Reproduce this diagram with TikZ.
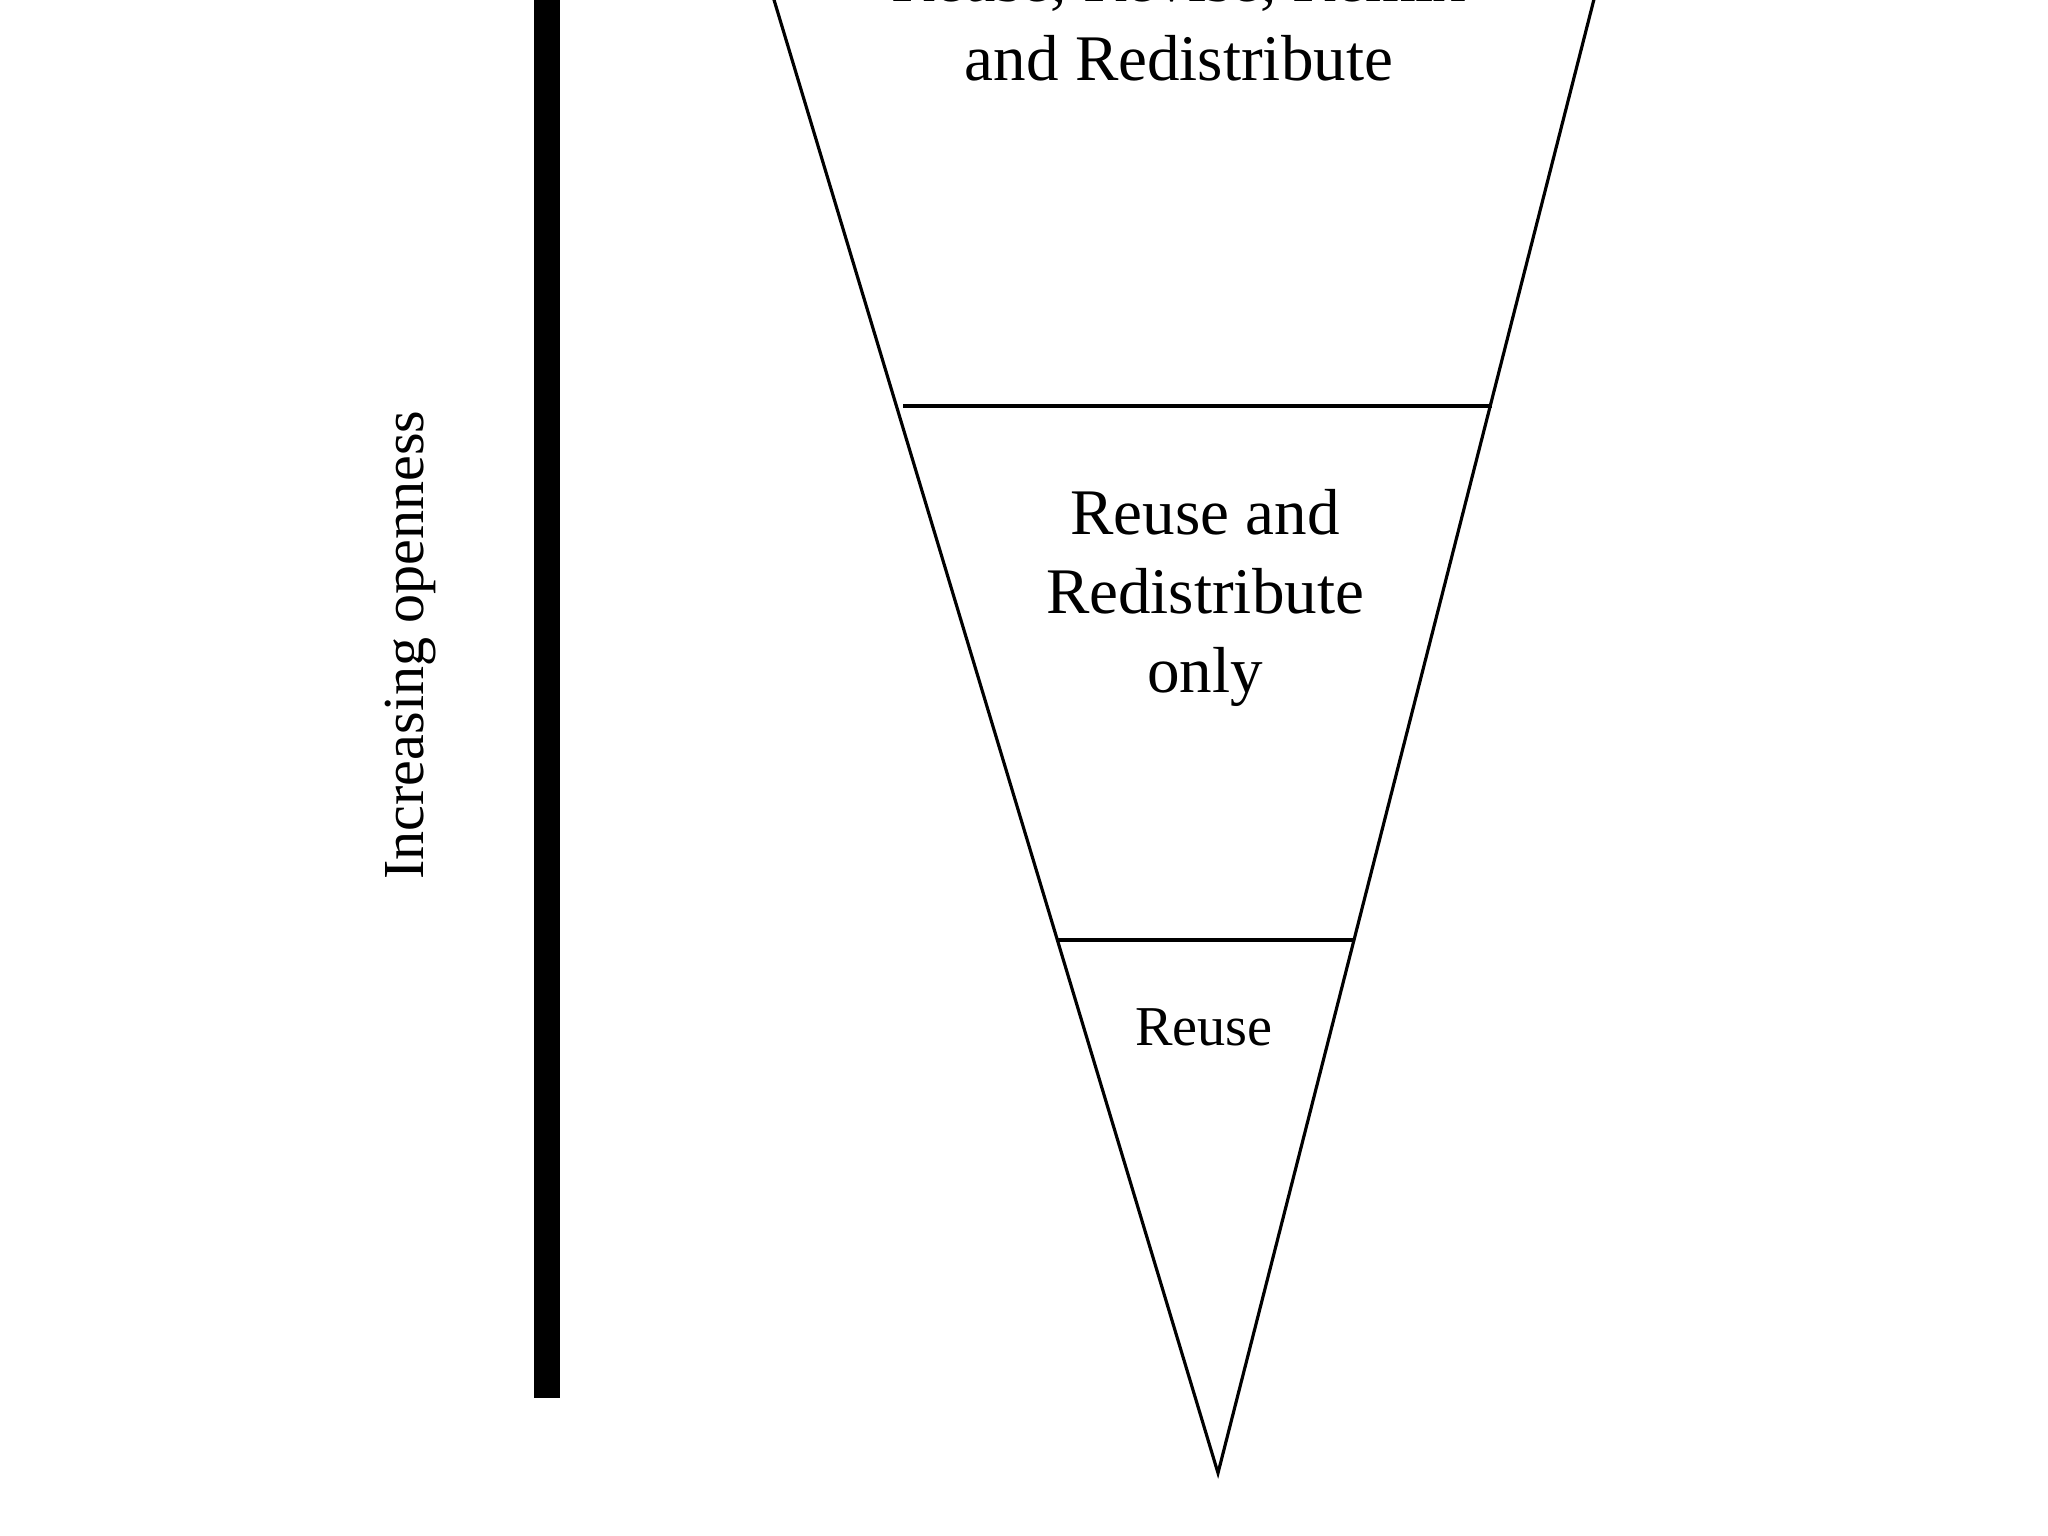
\documentclass[tikz,border=0pt]{standalone}
\usepackage{fontspec}
\setmainfont{Liberation Serif}
\usetikzlibrary{positioning}

\tikzset{
  band/.style={line width=0.9pt, line join=miter},
  level/.style={align=center, inner sep=0pt, font=\fontsize{18.5}{22.5}\selectfont},
  axis/.style={line width=0.26cm},
}

\begin{document}
\begin{tikzpicture}[x=0.01cm, y=-0.01cm]
  \useasboundingbox[fill=white] (0,0) rectangle (2048,1536);
  % funnel
  \coordinate (tl) at (762,-40);
  \coordinate (tr) at (1604,-40);
  \coordinate (apex) at (1218,1473);
  \draw[band] (tl) -- (apex) -- (tr);
  % level dividers
  \coordinate (d1l) at (903,406);
  \coordinate (d1r) at (1492,406);
  \coordinate (d2l) at (1058,940);
  \coordinate (d2r) at (1354,940);
  \draw[band] (d1l) -- (d1r);
  \draw[band] (d2l) -- (d2r);
  % labels
  \node[level] (all) at (1179,20) {Reuse, Revise, Remix\\and Redistribute};
  \node[level] (redis) at (1205,598) {Reuse and\\Redistribute\\only};
  \node[level, anchor=base, font=\fontsize{16}{19}\selectfont] (reuse) at (1204,1045) {Reuse};
  % openness bar
  \coordinate (bartop) at (547,-20);
  \coordinate (barbot) at (547,1398);
  \draw[axis] (bartop) -- (barbot);
  \node[rotate=90, inner sep=0pt, font=\fontsize{16.5}{20}\selectfont] (open) at (411,645) {Increasing openness};
\end{tikzpicture}
\end{document}
